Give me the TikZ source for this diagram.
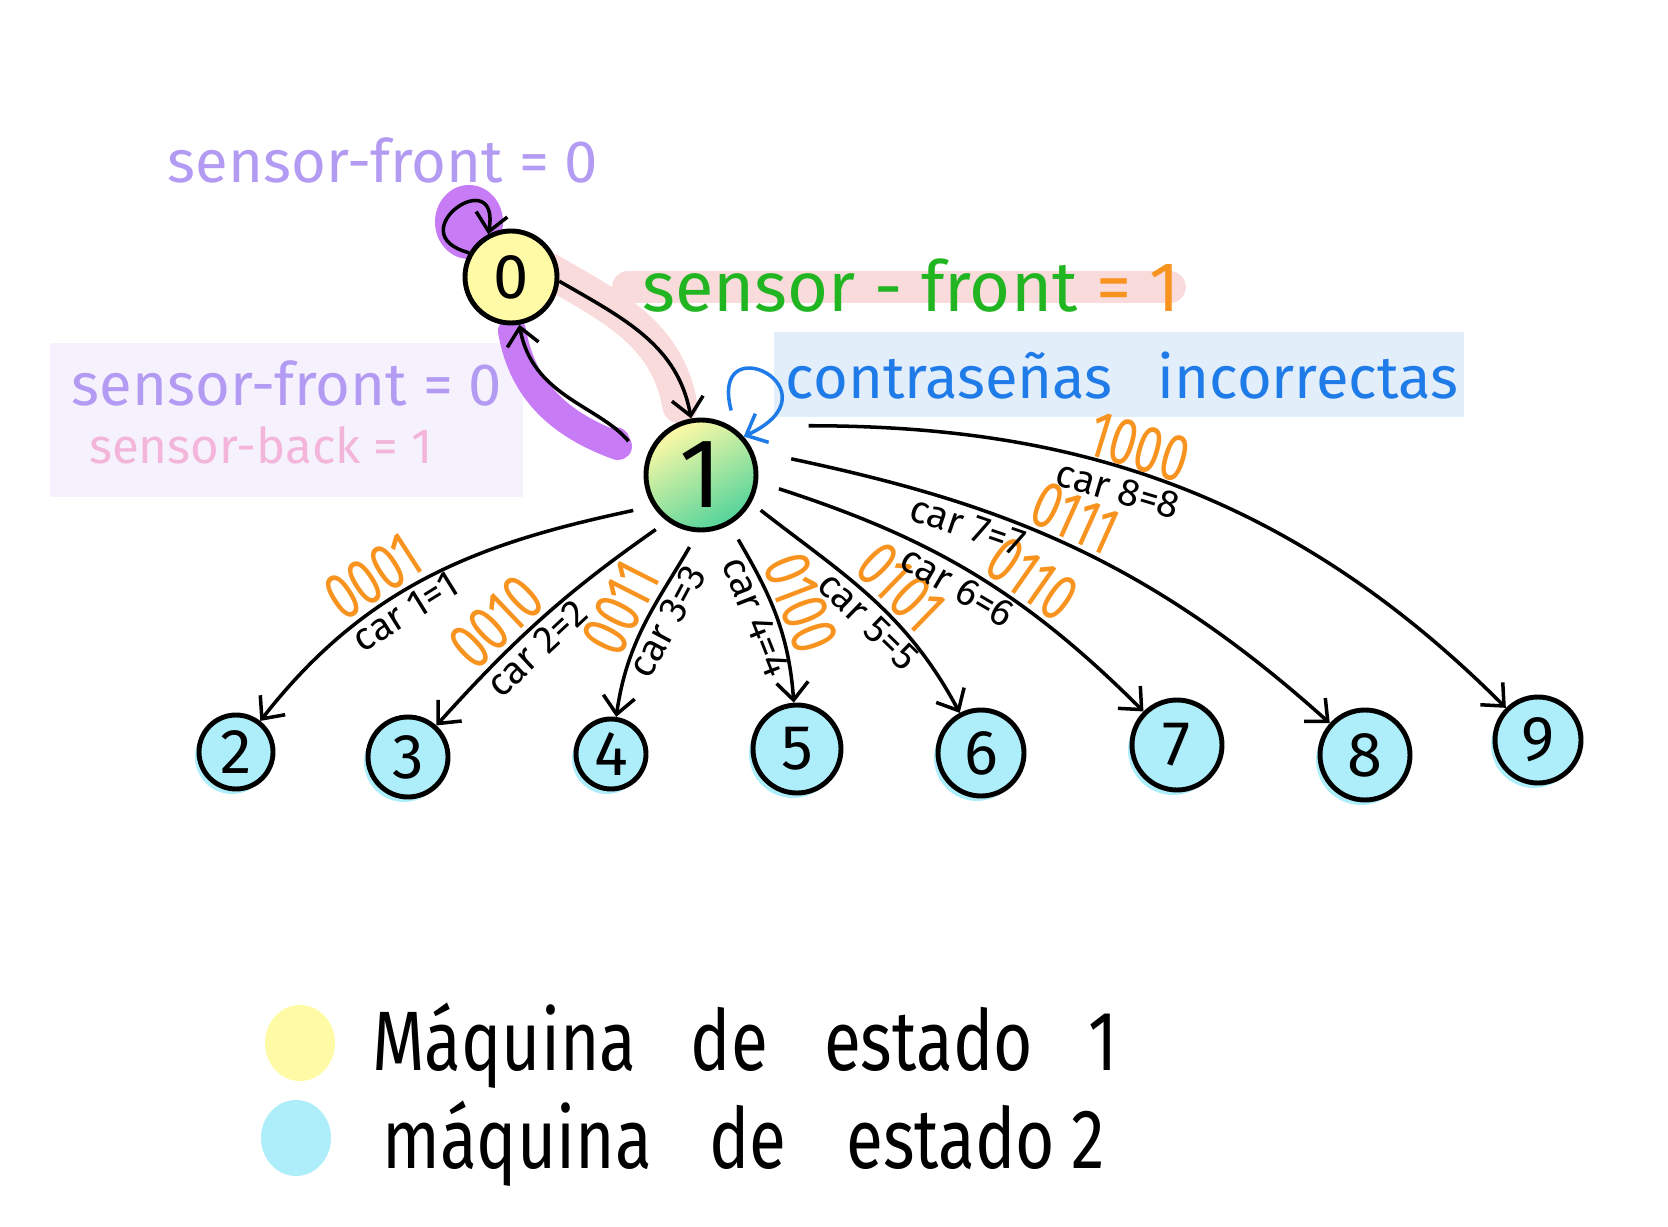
\documentclass[tikz,border=0pt]{standalone}
\usepackage{fontspec}
\setmainfont{Fira Sans}
\usetikzlibrary{arrows.meta,positioning}
\definecolor{lila}{HTML}{B39AF2}
\definecolor{violeta}{HTML}{C77CF6}
\definecolor{rosa}{HTML}{FADBDB}
\definecolor{rosatxt}{HTML}{F3B5DA}
\definecolor{verde}{HTML}{22B522}
\definecolor{naranja}{HTML}{F7931E}
\definecolor{azul}{HTML}{1F7BE8}
\definecolor{azulcaja}{HTML}{E3EEFB}
\definecolor{lilacaja}{HTML}{F5F2FD}
\definecolor{amarillo}{HTML}{FFFAA6}
\definecolor{celeste}{HTML}{AEEEFB}
\definecolor{menta}{HTML}{52D39B}
\newcommand{\tam}[1]{\fontsize{#1}{#1}\selectfont}
\newcommand{\angosto}[1]{\scalebox{0.8}[1]{#1}}
\newcommand{\cod}[1]{\scalebox{0.72}[1]{#1}}

\begin{document}
\begin{tikzpicture}[
  estado/.style={circle, draw=black, line width=1.4pt, inner sep=0pt},
  maq1/.style={estado, fill=amarillo},
  maq2/.style={estado, fill=celeste, font=\tam{18},
    preaction={fill=celeste, transform canvas={shift={(-0.04,-0.05)}}}},
  flecha/.style={line width=1pt, -{Straight Barb[length=5pt,width=9pt]}},
  codigo/.style={sloped, above, inner sep=1pt, text=naranja, font=\tam{19}},
  carro/.style={sloped, below, inner sep=1pt, font=\tam{11}},
]
\useasboundingbox (0,0) rectangle (16.68,12.26);

%%% fondos y resaltados
\fill[lilacaja] (0.50,7.29) rectangle (5.23,8.83);
\fill[azulcaja] (7.74,8.09) rectangle (14.64,8.94);
\draw[rosa, line width=9pt, line cap=round] (6.28,9.39) -- (11.70,9.39);
\draw[rosa, line width=10pt, line cap=round] (5.50,9.55) to[out=-30,in=100] (6.80,8.20);
\draw[violeta, line width=8pt, line cap=round] (6.18,7.80) to[out=160,in=-80] (5.12,8.95);
\fill[violeta] (6.15,7.84) circle (0.15);
\fill[violeta] (4.69,10.04) ellipse (0.34 and 0.37);

%%% estados
\node[maq1, minimum size=0.92cm, font=\tam{18}] (n0) at (5.11,9.49) {0};
\node[estado, minimum size=1.1cm, font=\tam{28}, top color=amarillo, bottom color=menta,
  shading angle=30] (n1) at (7.01,7.51) {1};
\node[maq2, minimum size=0.74cm] (n2) at (2.36,4.74) {2};
\node[maq2, minimum size=0.80cm] (n3) at (4.08,4.69) {3};
\node[maq2, minimum size=0.70cm] (n4) at (6.11,4.72) {4};
\node[maq2, minimum size=0.88cm] (n5) at (7.97,4.77) {5};
\node[maq2, minimum size=0.86cm] (n6) at (9.81,4.73) {6};
\node[maq2, minimum size=0.90cm] (n7) at (11.77,4.81) {7};
\node[maq2, minimum size=0.90cm] (n8) at (13.65,4.71) {8};
\node[maq2, minimum size=0.86cm] (n9) at (15.38,4.86) {9};

%%% textos
\node[text=lila, font=\tam{17}] (t0) at (3.83,10.66) {sensor-front = 0};
\node[anchor=west, font=\tam{20}] (t1) at (6.30,9.40)
  {\textcolor{verde}{sensor - front} \textcolor{naranja}{= 1}};
\node[text=azul, font=\tam{17}] (t2) at (11.22,8.50) {contraseñas\hspace{0.45cm}incorrectas};
\node[text=lila, font=\tam{17}] (t3) at (2.87,8.43) {sensor-front = 0};
\node[text=rosatxt, font=\tam{14}] (t4) at (2.61,7.81) {sensor-back = 1};

%%% transiciones
\draw[flecha] (n0.150) .. controls +(165:0.75) and +(80:0.75) .. (n0.118);
\draw[flecha] (n0.-5) to[out=-30,in=100] (n1);
\draw[flecha, shorten <=0.26cm] (n1.166) to[out=130,in=-80] (n0);
\draw[flecha, azul, shorten <=0.2cm] (n1.52) .. controls +(105:1.1) and +(25:1.1) .. (n1.42);

\draw[flecha, shorten <=0.20cm] (n1.213) to[out=192,in=52]
  node[codigo, pos=0.62] {\cod{0001}} node[carro, pos=0.6] {car 1=1} (n2);
\draw[flecha, shorten <=0.14cm] (n1.234) to[out=215,in=48]
  node[codigo, pos=0.64] {\cod{0010}} node[carro, pos=0.6] {car 2=2} (n3);
\draw[flecha, shorten <=0.17cm] (n1.267) to[out=240,in=82]
  node[codigo, pos=0.5] {\cod{0011}} node[carro, pos=0.45] {car 3=3} (n4);
\draw[flecha, shorten <=0.17cm] (n1.300) to[out=-60,in=94]
  node[codigo, pos=0.52] {\cod{0100}} node[carro, pos=0.5] {car 4=4} (n5);
\draw[flecha, shorten <=0.12cm] (n1.331) to[out=-38,in=118]
  node[codigo, pos=0.56] {\cod{0101}} node[carro, pos=0.56] {car 5=5} (n6);
\draw[flecha, shorten <=0.22cm] (n1.-7) to[out=-18,in=135]
  node[codigo, pos=0.64] {\cod{0110}} node[carro, pos=0.5] {car 6=6} (n7);
\draw[flecha, shorten <=0.39cm] (n1.25) to[out=-12,in=138]
  node[codigo, pos=0.5] {\cod{0111}} node[carro, pos=0.34] {car 7=7} (n8);
\draw[flecha, shorten <=0.78cm] (n1.59) to[out=0,in=135]
  node[codigo, pos=0.47] {\cod{1000}} node[carro, pos=0.46] {car 8=8} (n9);

%%% leyenda
\fill[amarillo] (3.00,1.83) ellipse (0.35 and 0.38);
\fill[celeste] (2.96,0.88) ellipse (0.35 and 0.38);
\node[anchor=west, font=\tam{24}] (l1) at (3.60,1.80)
  {\angosto{Máquina\hspace{0.68cm}de\hspace{0.7cm}estado\hspace{0.7cm}1}};
\node[anchor=west, font=\tam{24}] (l2) at (3.70,0.82)
  {\angosto{máquina\hspace{0.72cm}de\hspace{0.75cm}estado\hspace{0.2cm}2}};
\end{tikzpicture}
\end{document}
